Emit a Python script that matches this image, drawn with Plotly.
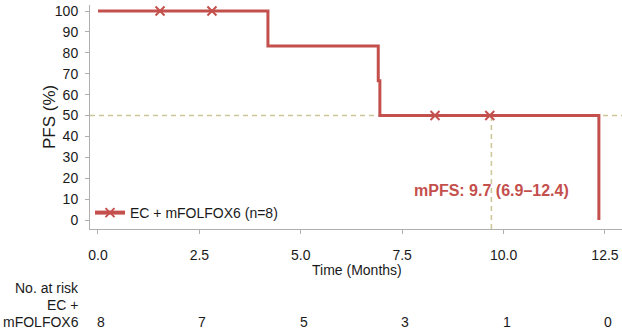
import plotly.graph_objects as go

# KM step curve data
step_times = [0.0, 4.19, 6.91, 6.95, 12.35]
step_surv = [100.0, 83.3, 66.7, 50.0, 0.0]
# censored observations
cens_times = [1.53, 2.81, 8.31, 9.66]
cens_surv = [100.0, 100.0, 50.0, 50.0]
median_pfs = 9.7
# number at risk
risk_times = [0.0, 2.5, 5.0, 7.5, 10.0, 12.5]
risk_counts = [8, 7, 5, 3, 1, 0]
x_ticks = [0.0, 2.5, 5.0, 7.5, 10.0, 12.5]
y_ticks = [0, 10, 20, 30, 40, 50, 60, 70, 80, 90, 100]
series_name = "EC + mFOLFOX6 (n=8)"

RED = "rgb(196,80,77)"
TAN = "rgb(204,198,150)"
AXIS = "rgb(175,175,175)"
FONT = "Liberation Sans, Arial, sans-serif"
TXT = "#1a1a1a"
FS = 14

fig = go.Figure()
fig.add_trace(go.Scatter(x=step_times, y=step_surv, mode="lines",
                         line=dict(color=RED, width=3, shape="hv"),
                         showlegend=False, hoverinfo="skip"))
fig.add_trace(go.Scatter(x=cens_times, y=cens_surv, mode="markers",
                         marker=dict(symbol="x-thin", size=9, line=dict(color=RED, width=2)),
                         showlegend=False))
fig.add_trace(go.Scatter(x=[None], y=[None], mode="lines+markers", name=series_name,
                         line=dict(color=RED, width=4),
                         marker=dict(symbol="x-thin", size=9, line=dict(color=RED, width=2))))

# median reference lines
fig.add_shape(type="line", xref="paper", yref="y", x0=0, x1=1, y0=50, y1=50,
              line=dict(color=TAN, width=1.5, dash="5px,4px"), layer="below")
fig.add_shape(type="line", xref="x", yref="paper", x0=median_pfs, x1=median_pfs, y0=0, y1=0.502,
              line=dict(color=TAN, width=1.5, dash="5px,4px"), layer="below")

fig.add_annotation(x=median_pfs, y=14, xref="x", yref="y", text="<b>mPFS: 9.7 (6.9–12.4)</b>",
                   showarrow=False, yanchor="middle", font=dict(family=FONT, size=16, color=RED))


def py(ypix):
    return (229 - ypix) / 224


def px(xpix):
    return (xpix - 90) / 532


fig.add_annotation(x=px(357), y=py(270), xref="paper", yref="paper", text="Time (Months)",
                   showarrow=False, yanchor="middle", font=dict(family=FONT, size=FS, color=TXT))
fig.add_annotation(x=px(49), y=py(117), xref="paper", yref="paper", text="PFS (%)", textangle=-90,
                   showarrow=False, yanchor="middle", xanchor="center",
                   font=dict(family=FONT, size=17, color=TXT))

for label, yp in [("No. at risk", 288), ("EC +", 305), ("mFOLFOX6", 322)]:
    fig.add_annotation(x=px(81), y=py(yp), xref="paper", yref="paper", text=label,
                       showarrow=False, xanchor="right", yanchor="middle",
                       font=dict(family=FONT, size=FS, color=TXT))
for t, n in zip(risk_times, risk_counts):
    fig.add_annotation(x=t, y=py(322), xref="x", yref="paper", text=str(n), xshift=3,
                       showarrow=False, yanchor="middle", font=dict(family=FONT, size=FS, color=TXT))

fig.update_layout(
    width=622, height=335,
    margin=dict(l=90, r=0, t=5, b=106),
    plot_bgcolor="white", paper_bgcolor="white",
    font=dict(family=FONT, size=FS, color=TXT),
    legend=dict(x=0.0, y=0.0, xanchor="left", yanchor="bottom",
                bgcolor="rgba(0,0,0,0)", font=dict(family=FONT, size=FS, color=TXT)),
    xaxis=dict(range=[-0.197, 12.92], tickvals=x_ticks, ticktext=[f"{v:.1f}" for v in x_ticks],
               showgrid=False, zeroline=False, showline=True, linecolor=AXIS, linewidth=1,
               ticks="outside", ticklen=4, tickcolor=AXIS, ticklabelstandoff=9,
               tickfont=dict(family=FONT, size=FS, color=TXT)),
    yaxis=dict(range=[-4.3, 102.9], tickvals=y_ticks,
               showgrid=False, zeroline=False, showline=True, linecolor=AXIS, linewidth=1,
               ticks="outside", ticklen=4, tickcolor=AXIS, ticklabelstandoff=4,
               tickfont=dict(family=FONT, size=FS, color=TXT)),
)

fig.write_html("out.html")
